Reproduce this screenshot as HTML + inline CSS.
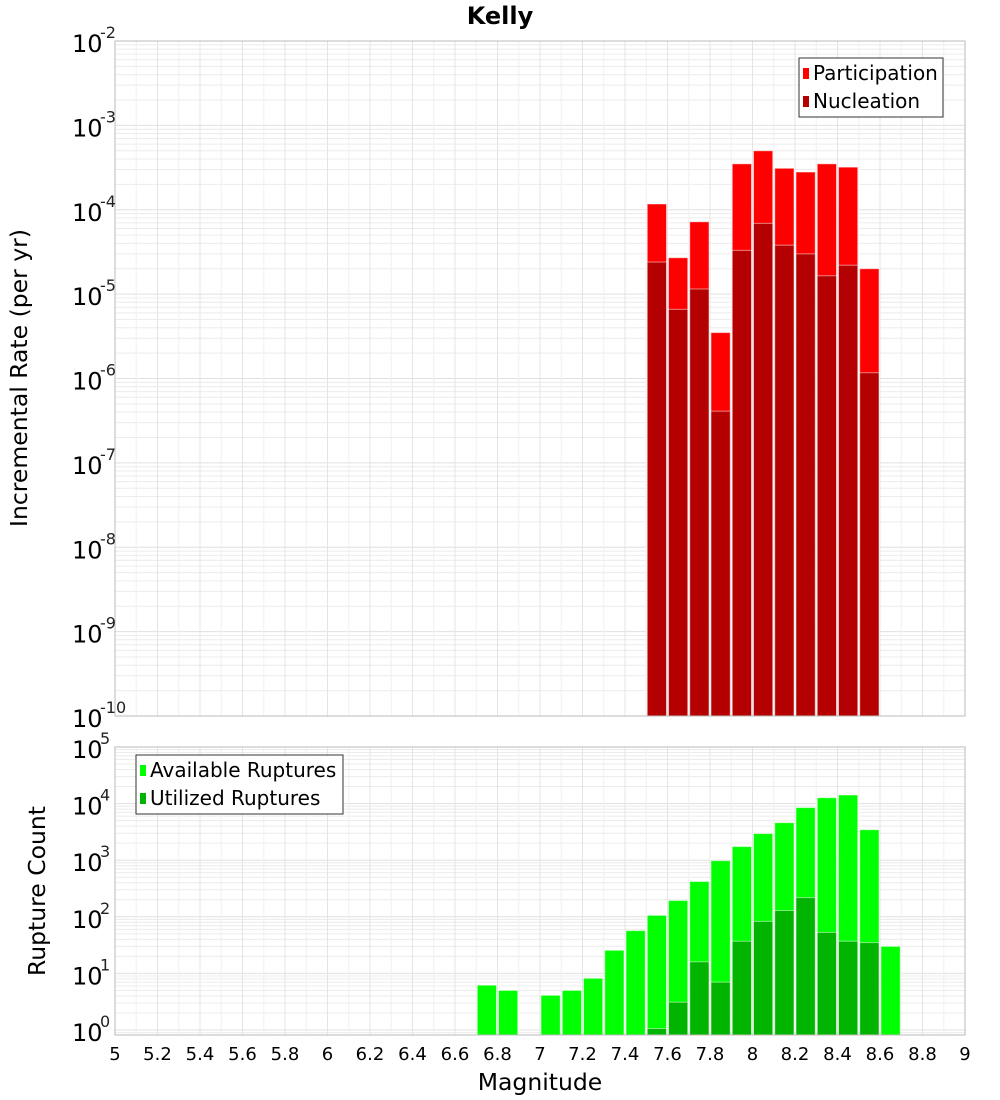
<!DOCTYPE html>
<html><head><meta charset="utf-8"><style>
body{margin:0;background:#fff;}
svg{display:block;font-family:"DejaVu Sans","Liberation Sans",sans-serif;}
</style></head><body>
<svg id="c" width="1000" height="1100" xmlns="http://www.w3.org/2000/svg">
<text x="500" y="24" text-anchor="middle" font-size="24" font-weight="bold">Kelly</text>
</svg>
<script>
const binLeft = [7.5,7.6,7.7,7.8,7.9,8.0,8.1,8.2,8.3,8.4,8.5];
const participation = [1.17e-4,2.7e-5,7.2e-5,3.5e-6,3.5e-4,5.0e-4,3.1e-4,2.8e-4,3.5e-4,3.2e-4,2.0e-5];
const nucleation = [2.4e-5,6.6e-6,1.15e-5,4.1e-7,3.3e-5,6.9e-5,3.8e-5,3.0e-5,1.65e-5,2.2e-5,1.17e-6];
const countBins = [6.7,6.8,7.0,7.1,7.2,7.3,7.4,7.5,7.6,7.7,7.8,7.9,8.0,8.1,8.2,8.3,8.4,8.5,8.6];
const available = [6.2,5.0,4.1,5.0,8.2,25.6,57,106,194,420,980,1740,2950,4600,8500,12700,14200,3450,30];
const utilizedBins = [7.5,7.6,7.7,7.8,7.9,8.0,8.1,8.2,8.3,8.4,8.5];
const utilized = [1.06,3.1,16,7,37,83,129,218,53,37,35];
const xTicks = [5,5.2,5.4,5.6,5.8,6,6.2,6.4,6.6,6.8,7,7.2,7.4,7.6,7.8,8,8.2,8.4,8.6,8.8,9];
const topExp = [-10,-9,-8,-7,-6,-5,-4,-3,-2];
const botExp = [0,1,2,3,4,5];

const NS="http://www.w3.org/2000/svg", svg=document.getElementById('c');
function mk(t,a,p){const e=document.createElementNS(NS,t);for(const k in a)e.setAttribute(k,a[k]);(p||svg).appendChild(e);return e;}
const L=115,R=965;
const xs=m=>L+(m-5)/4*(R-L);
const T1=41,B1=716;
const y1=v=>B1-(Math.log10(v)+10)/8*(B1-T1);
const T2=747,B2=1035,Y0=1030,PD=(Y0-T2)/5;
const y2=v=>Math.max(T2,Math.min(B2,Y0-Math.log10(v)*PD));

function grid(top,bot,yf,e0,e1){
  const g=mk('g',{});
  
  
  for(let e=e0;e<=e1;e++)for(let k=1;k<10;k++){const v=k*Math.pow(10,e);const y=yf(v);if(y<top-0.5||y>bot+0.5)continue;mk('line',{x1:L,x2:R,y1:y,y2:y,stroke:k==1?'#e0e0e0':'#ececec','stroke-width':1},g);}
  for(let i=0;i<=40;i++){const x=xs(5+i*0.1);mk('line',{x1:x,x2:x,y1:top,y2:bot,stroke:i%2==0?'#e4e4e4':'#f0f0f0','stroke-width':1},g);}
}
grid(T1,B1,y1,-10,-3);
grid(T2,B2,y2,-1,5);

function bars(lefts,vals,yf,base,col,name){
  lefts.forEach((m,i)=>{const x0=xs(m)+1,x1=xs(m+0.1)-1,y=yf(vals[i]);
    const r=mk('rect',{x:x0,y:y,width:x1-x0,height:base-y,fill:col,stroke:'rgba(255,255,255,0.5)','stroke-width':1});
    
    });
}
bars(binLeft,participation,y1,B1,'#ff0000','participation');
bars(binLeft,nucleation,y1,B1,'#b40000','nucleation');
bars(countBins,available,y2,B2,'#00ff00','available');
bars(utilizedBins,utilized,y2,B2,'#00b400','utilized');

mk('rect',{x:L,y:T1,width:R-L,height:B1-T1,fill:'none',stroke:'#bbb'});
mk('rect',{x:L,y:T2,width:R-L,height:B2-T2,fill:'none',stroke:'#bbb'});

function ytick(y,e,name){
  const t=mk('text',{x:72,y:y+11,'font-size':24});
  
  
  t.textContent='10';
  const s=mk('text',{x:100,y:y-3,'font-size':16,fill:'#222'});
  
  
  s.textContent=String(e);
}
topExp.forEach(e=>ytick(y1(Math.pow(10,e)),e,'top-y-tick'));
botExp.forEach(e=>ytick(Y0-e*PD,e,'bottom-y-tick'));

xTicks.forEach(m=>{const t=mk('text',{x:xs(m),y:1060,'font-size':18,'text-anchor':'middle'});
  
  
  t.textContent=String(m);});

function lbl(txt,x,y,rot,name){const t=mk('text',{x:x,y:y,'font-size':23.5,'text-anchor':'middle',transform:rot?`rotate(-90 ${x} ${y})`:''});
  
  
  t.textContent=txt;}
lbl('Magnitude',540,1090,false,'x-axis-title');
lbl('Incremental Rate (per yr)',27,378,true,'top-y-axis-title');
lbl('Rupture Count',45,891,true,'bottom-y-axis-title');

function legend(x,y,w,items,name){
  const g=mk('g',{});
  
  
  mk('rect',{x:x,y:y,width:w,height:59,fill:'#fff',stroke:'#333'},g);
  items.forEach((it,i)=>{const cy=y+15+i*28;
    mk('rect',{x:x+4,y:cy-5,width:6,height:11,fill:it[1]},g);
    const t=mk('text',{x:x+14,y:cy+7,'font-size':20},g);t.textContent=it[0];});
}
legend(799,58,144,[['Participation','#ff0000'],['Nucleation','#b40000']],'top-legend');
legend(136,755,207,[['Available Ruptures','#00ff00'],['Utilized Ruptures','#00b400']],'bottom-legend');
</script>
</body></html>
